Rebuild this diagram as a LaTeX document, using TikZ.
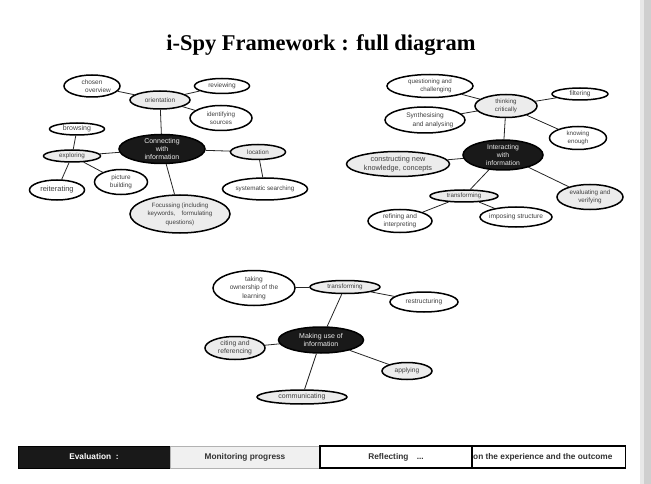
\documentclass[tikz,border=0pt]{standalone}
\usepackage{fontspec}
\setmainfont{Liberation Serif}
\setsansfont{Liberation Sans}
\usetikzlibrary{shapes.geometric,backgrounds}
\tikzset{
  bub/.style={ellipse, draw=black, line width=1.5pt, inner xsep=-6pt, inner ysep=-3pt, align=center,
    font=\sffamily\fontsize{6.3}{7.5}\selectfont, text=black!75},
  fs/.style 2 args={font=\sffamily\fontsize{#1}{#2}\selectfont},
  wb/.style={bub, fill=white},
  gb/.style={bub, fill=gray!15},
  kb/.style={bub, fill=black!90, text=white!92!black},
  sz/.style 2 args={minimum width=#1pt, minimum height=#2pt},
  link/.style={line width=0.8pt, draw=black!85},
  seg/.style={draw=black, line width=0.9pt, minimum height=22pt, inner sep=0pt,
    font=\sffamily\bfseries\fontsize{8.3}{9}\selectfont, text=black!80},
}
\begin{document}
\begin{tikzpicture}[x=1pt,y=-1pt]
\useasboundingbox (0,0) rectangle (651,484);
% title
\node[font=\bfseries\fontsize{22.5}{26}\selectfont] (title) at (321,45) {i-Spy Framework : full diagram};
% ---- left cluster
\node[kb, sz={86}{29}, fs={7}{8}] (cwi) at (162,149) {Connecting\\with\\information};
\node[gb, sz={60}{18}, fs={6.5}{7.5}] (ori) at (160,100) {orientation};
\node[wb, sz={56}{22}, fs={6.5}{8}] (cho) at (92,86) {chosen\\\hspace{12pt}overview};
\node[wb, sz={55}{15}, fs={6.5}{7.5}] (rev) at (222,86) {reviewing};
\node[wb, sz={62}{25}, fs={6.3}{8}] (ids) at (221,118) {identifying\\sources};
\node[wb, sz={55}{12}, fs={7}{8}] (bro) at (77,129) {browsing};
\node[gb, sz={57}{12}, fs={6.3}{7}] (exp) at (72,156) {exploring};
\node[wb, sz={55}{20}, fs={7.5}{8.5}] (rei) at (57,190) {reiterating};
\node[wb, sz={53}{25}, fs={6.4}{8}] (pic) at (121,182) {picture\\building};
\node[gb, sz={55}{15}, fs={6.3}{7}] (loc) at (258,152) {location};
\node[wb, sz={85}{22}, fs={6.3}{7}] (sys) at (265,189) {systematic searching};
\node[gb, sz={100}{38}, fs={6.2}{8.5}] (foc) at (180,214) {Focussing (including\\keywords,\quad formulating\\questions)};
% ---- right cluster
\node[wb, sz={86}{23}, fs={6.2}{8}] (qc) at (430,86) {questioning and\\\hspace{12pt}challenging};
\node[gb, sz={62}{23}, fs={6.2}{8}] (tc) at (506,106) {thinking\\critically};
\node[wb, sz={56}{12}, fs={6.5}{7.5}] (fil) at (580,94) {filtering};
\node[wb, sz={80}{26}, fs={6.6}{9}] (sa) at (425,120) {Synthesising\\\hspace{16pt}and analysing};
\node[wb, sz={57}{23}, fs={6.2}{8}] (ke) at (578,138) {knowing\\enough};
\node[kb, sz={80}{30}, fs={6.8}{8.2}] (iwi) at (503,155) {Interacting\\with\\information};
\node[gb, sz={103}{25}, fs={7.3}{9}] (cnk) at (398,164) {constructing new\\knowledge, concepts};
\node[gb, sz={68}{12}, fs={6.2}{7}] (tr) at (464,196) {transforming};
\node[gb, sz={66}{25}, fs={6.3}{7.8}] (ev) at (590,197) {evaluating and\\verifying};
\node[wb, sz={64}{23}, fs={6.5}{7.8}] (ri) at (400,221) {refining and\\interpreting};
\node[wb, sz={72}{20}, fs={6.6}{8}] (is) at (516,217) {imposing structure};
% ---- bottom cluster
\node[wb, sz={82}{35}, fs={6.6}{8.5}] (to) at (254,288) {taking\\ownership of the\\learning};
\node[gb, sz={70}{13}, fs={6.3}{7}] (tf) at (345,287) {transforming};
\node[wb, sz={68}{20}, fs={6.6}{7.5}] (rs) at (424,302) {restructuring};
\node[kb, sz={85}{26}, fs={7}{8.5}] (mui) at (321,340) {Making use of\\information};
\node[gb, sz={60}{23}, fs={6.8}{8}] (cr) at (235,348) {citing and\\referencing};
\node[gb, sz={50}{17}, fs={6.6}{7.5}] (ap) at (407,371) {applying};
\node[gb, sz={90}{14}, fs={7}{8}] (com) at (302,397) {communicating};
% ---- bottom bar
\node[seg, fill=black!90, text=white, minimum width=152pt] (s1) at (94,457) {Evaluation\ \ :};
\node[seg, draw=gray!60, fill=gray!12, minimum width=150pt] (s2) at (245,457) {Monitoring progress};
\node[seg, fill=white, minimum width=152pt, line width=1.2pt] (s3) at (396,457) {Reflecting\quad ...};
\node[seg, fill=white, minimum width=153pt, line width=1.2pt, anchor=west] (s4) at (472,457) {};
\node[font=\sffamily\bfseries\fontsize{8.3}{9}\selectfont, text=black!80, anchor=west, inner sep=1pt] (s4t) at (s4.west) {on the experience and the outcome};
% ---- connectors
\begin{scope}[on background layer]
\fill[white] (0,0) rectangle (651,484);
\fill[gray!18] (640,0) rectangle (644,484);
\fill[gray!38] (644,0) rectangle (651,484);
\draw[link] (ori) -- (cho);
\draw[link] (ori) -- (rev);
\draw[link] (ori) -- (ids);
\draw[link] (ori) -- (cwi);
\draw[link] (cwi) -- (exp);
\draw[link] (exp) -- (bro);
\draw[link] (exp) -- (rei);
\draw[link] (exp) -- (pic);
\draw[link] (cwi) -- (loc);
\draw[link] (loc) -- (sys);
\draw[link] (cwi) -- (foc);
\draw[link] (tc) -- (qc);
\draw[link] (tc) -- (sa);
\draw[link] (tc) -- (fil);
\draw[link] (tc) -- (ke);
\draw[link] (tc) -- (iwi);
\draw[link] (iwi) -- (cnk);
\draw[link] (iwi) -- (tr);
\draw[link] (tr) -- (ri);
\draw[link] (tr) -- (is);
\draw[link] (iwi) -- (ev);
\draw[link] (tf) -- (to);
\draw[link] (tf) -- (rs);
\draw[link] (tf) -- (mui);
\draw[link] (mui) -- (cr);
\draw[link] (mui) -- (ap);
\draw[link] (mui) -- (com);
\end{scope}
\end{tikzpicture}
\end{document}
